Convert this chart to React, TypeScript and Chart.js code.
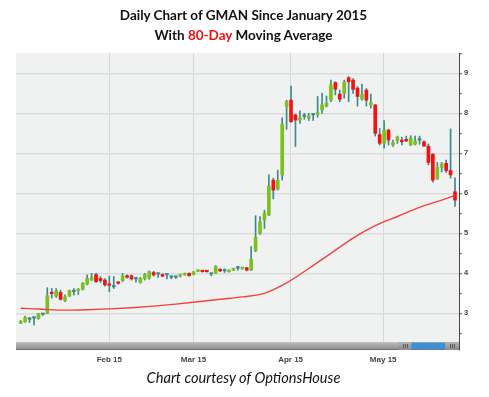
import React, { useEffect, useRef } from 'react';
import { Chart, registerables } from 'chart.js';

Chart.register(...registerables);

// Daily OHLC values (index 0 = mid-January 2015)
const opens = [
  2.75, 2.79, 2.85, 2.88, 2.87, 2.97, 3.0, 3.52, 3.43, 3.52,
  3.32, 3.43, 3.54, 3.57, 3.6, 3.73, 3.83, 3.97, 3.87, 3.83,
  3.73, 3.66, 3.77, 3.82, 3.94, 3.94, 3.86, 3.77, 3.86, 3.88,
  4.02, 3.98, 3.97, 3.96, 3.9, 3.9, 3.93, 3.96, 4.0, 3.97,
  4.05, 4.06, 4.05, 3.98, 4.0, 4.1, 4.06, 4.04, 4.08, 4.13,
  4.12, 4.14, 4.08, 4.56, 5.0, 5.33, 5.46, 6.33, 6.1, 6.46,
  8.17, 8.33, 7.96, 7.83, 7.92, 7.88, 7.96, 7.98, 8.08, 8.18,
  8.33, 8.77, 8.48, 8.5, 8.89, 8.83, 8.63, 8.36, 8.58, 8.21,
  8.21, 7.47, 7.25, 7.58, 7.21, 7.32, 7.3, 7.35, 7.21, 7.23,
  7.33, 7.29, 7.18, 6.98, 6.36, 6.65, 6.75, 6.57, 6.04,
];
const highs = [
  2.82, 2.93, 2.9, 2.9, 3.0, 2.99, 3.64, 3.62, 3.62, 3.58,
  3.46, 3.58, 3.62, 3.62, 3.77, 3.96, 4.0, 4.0, 3.92, 3.87,
  3.93, 3.92, 3.79, 4.0, 3.96, 3.96, 3.9, 3.9, 4.0, 4.06,
  4.05, 4.0, 3.99, 3.98, 3.94, 3.93, 3.98, 4.01, 4.01, 4.05,
  4.09, 4.07, 4.06, 4.0, 4.19, 4.12, 4.11, 4.09, 4.13, 4.17,
  4.15, 4.15, 4.67, 5.44, 5.42, 5.58, 6.46, 6.38, 6.58, 7.89,
  8.33, 8.68, 7.98, 8.06, 8.0, 8.0, 8.0, 8.42, 8.5, 8.43,
  8.83, 8.79, 8.58, 8.83, 8.92, 8.87, 8.67, 8.73, 8.62, 8.48,
  8.22, 7.62, 7.82, 7.6, 7.33, 7.43, 7.4, 7.43, 7.44, 7.43,
  7.43, 7.31, 7.23, 6.99, 6.77, 6.77, 6.83, 7.61, 6.39,
];
const lows = [
  2.74, 2.77, 2.77, 2.71, 2.85, 2.95, 2.99, 3.38, 3.4, 3.33,
  3.29, 3.42, 3.46, 3.47, 3.58, 3.71, 3.82, 3.77, 3.77, 3.68,
  3.54, 3.62, 3.73, 3.79, 3.88, 3.83, 3.78, 3.75, 3.83, 3.85,
  3.93, 3.9, 3.91, 3.86, 3.86, 3.87, 3.91, 3.95, 3.93, 3.96,
  4.04, 4.03, 4.03, 3.94, 3.99, 4.04, 4.02, 4.03, 4.07, 4.08,
  4.1, 4.06, 4.07, 4.54, 4.97, 5.12, 5.44, 5.86, 6.08, 6.33,
  7.6, 7.77, 7.17, 7.75, 7.85, 7.82, 7.82, 7.9, 8.0, 8.16,
  8.29, 8.46, 8.29, 8.38, 8.29, 8.5, 8.18, 8.33, 8.18, 8.13,
  7.43, 7.21, 7.13, 7.21, 7.17, 7.25, 7.21, 7.29, 7.19, 7.21,
  7.23, 7.17, 6.71, 6.28, 6.35, 6.54, 6.52, 6.38, 5.67,
];
const closes = [
  2.8, 2.9, 2.85, 2.88, 2.99, 2.97, 3.44, 3.49, 3.56, 3.35,
  3.41, 3.57, 3.54, 3.58, 3.75, 3.87, 3.9, 3.79, 3.82, 3.71,
  3.7, 3.66, 3.75, 3.93, 3.9, 3.86, 3.86, 3.87, 3.97, 4.04,
  3.96, 3.98, 3.93, 3.96, 3.9, 3.9, 3.97, 4.0, 3.94, 4.04,
  4.08, 4.04, 4.04, 3.98, 4.17, 4.06, 4.06, 4.08, 4.12, 4.13,
  4.14, 4.08, 4.35, 4.9, 5.29, 5.5, 6.18, 6.08, 6.33, 7.73,
  8.29, 7.79, 7.83, 7.89, 7.92, 7.93, 7.96, 8.02, 8.21, 8.25,
  8.71, 8.6, 8.35, 8.78, 8.79, 8.6, 8.42, 8.47, 8.33, 8.27,
  7.5, 7.25, 7.58, 7.33, 7.27, 7.4, 7.29, 7.31, 7.38, 7.31,
  7.33, 7.18, 6.77, 6.33, 6.65, 6.73, 6.57, 6.46, 5.83,
];

// 80-day moving average, read at selected candle indices
const maIndex = [0, 5, 10, 15, 20, 25, 30, 35, 40, 45, 50, 55, 60, 65, 70, 75, 80, 85, 90, 95, 98];
const maValues = [3.125, 3.1, 3.08, 3.09, 3.11, 3.14, 3.18, 3.23, 3.29, 3.35, 3.41, 3.5, 3.76, 4.12, 4.5, 4.88, 5.19, 5.42, 5.65, 5.83, 5.95];

// x-axis labels and their (fractional) candle positions
const xTickPos = [20, 39, 60.9, 81.8];
const xTickLabels = ['Feb 15', 'Mar 15', 'Apr 15', 'May 15'];

// y-axis ticks
const yTicks = [2.5, 3, 3.5, 4, 4.5, 5, 5.5, 6, 6.5, 7, 7.5, 8, 8.5, 9, 9.5];

const GREEN = '#7cc21c';
const RED = '#f21212';
const WICK = '#3f8892';

export default function App() {
  const ref = useRef<HTMLCanvasElement>(null);

  useEffect(() => {
    if (!ref.current) return;
    const idx = opens.map((_, i) => i);
    const bodyColors = idx.map((i) =>
      closes[i] > opens[i] ? GREEN : closes[i] < opens[i] ? RED : WICK
    );

    const bgPlugin = {
      id: 'plotbg',
      beforeDraw(chart: any) {
        const { ctx, chartArea: a } = chart;
        ctx.save();
        ctx.fillStyle = '#f0f1f1';
        ctx.fillRect(a.left, a.top, a.right - a.left, a.bottom - a.top);
        ctx.restore();
      },
    };

    const scrollPlugin = {
      id: 'scrollbar',
      afterDraw(chart: any) {
        const { ctx, chartArea: a } = chart;
        const top = a.bottom - 8;
        const h = 8;
        ctx.save();
        const g = ctx.createLinearGradient(0, top, 0, top + h);
        g.addColorStop(0, '#c4c4c4');
        g.addColorStop(0.35, '#a9a9a9');
        g.addColorStop(1, '#8e8e8e');
        ctx.fillStyle = g;
        ctx.fillRect(a.left, top, a.right - a.left, h);
        ctx.fillStyle = '#6f6f6f';
        ctx.fillRect(a.left, top + h - 1, a.right - a.left, 1);
        const b1 = 398, b2 = 411.5, b3 = 445, b4 = a.right - 0.5;
        const bg = ctx.createLinearGradient(0, top, 0, top + h);
        bg.addColorStop(0, '#b5b5b5');
        bg.addColorStop(1, '#8a8a8a');
        ctx.fillStyle = bg;
        ctx.fillRect(b1, top, b2 - b1, h);
        ctx.fillRect(b3, top, b4 - b3, h);
        ctx.fillStyle = '#3f8fd2';
        ctx.fillRect(b2, top + 0.5, b3 - b2, h - 1);
        ctx.fillStyle = '#5a5a5a';
        for (const c of [(b1 + b2) / 2, (b3 + b4) / 2]) {
          for (let k = -1; k <= 1; k++) ctx.fillRect(Math.round(c + k * 2), top + 2, 1, 4);
        }
        ctx.restore();
      },
    };

    const chart = new Chart(ref.current, {
      type: 'bar',
      data: {
        datasets: [
          {
            type: 'line',
            data: maIndex.map((x, i) => ({ x, y: maValues[i] })),
            borderColor: '#f0423e',
            borderWidth: 1.4,
            pointRadius: 0,
            cubicInterpolationMode: 'monotone',
            order: 0,
          } as any,
          {
            type: 'bar',
            data: idx.map((i) => ({ x: i, y: [opens[i], closes[i]] })),
            backgroundColor: bodyColors,
            borderWidth: 0,
            barThickness: 3,
            minBarLength: 1.5,
            grouped: false,
            order: 1,
          } as any,
          {
            type: 'bar',
            data: idx.map((i) => ({ x: i, y: [lows[i], highs[i]] })),
            backgroundColor: WICK,
            borderWidth: 0,
            barThickness: 1,
            grouped: false,
            order: 2,
          } as any,
        ],
      },
      options: {
        responsive: false,
        animation: false,
        layout: { padding: { left: 16, top: 53, right: 0, bottom: 0 } },
        plugins: { legend: { display: false }, tooltip: { enabled: false }, title: { display: false } },
        scales: {
          x: {
            type: 'linear',
            offset: false,
            min: -1.06,
            max: 98.9,
            afterFit: (s: any) => { s.height = 47; },
            afterBuildTicks: (s: any) => { s.ticks = xTickPos.map((v) => ({ value: v })); },
            grid: { color: '#d6d8d8', lineWidth: 1, drawTicks: false, offset: false },
            border: { display: false },
            ticks: {
              autoSkip: false,
              maxRotation: 0,
              padding: 5,
              color: '#444',
              font: { family: 'Liberation Sans', size: 8, weight: 'bold' },
              callback: (v: any) => {
                const k = xTickPos.indexOf(Number(v));
                return k >= 0 ? xTickLabels[k] : '';
              },
            },
          },
          y: {
            type: 'linear',
            position: 'right',
            min: 2.0825,
            max: 9.508,
            afterFit: (s: any) => { s.width = 30; },
            afterBuildTicks: (s: any) => { s.ticks = yTicks.map((v) => ({ value: v })); },
            grid: {
              color: (c: any) => (c.tick && Number.isInteger(c.tick.value) ? '#dadcdc' : 'rgba(0,0,0,0)'),
              lineWidth: 1.5,
              tickColor: '#555',
              tickLength: 3,
              tickWidth: 1,
            },
            border: { display: true, color: '#444', width: 1 },
            ticks: {
              padding: 2,
              color: '#444',
              font: { family: 'Liberation Sans', size: 7.5, weight: 'bold' },
              callback: (v: any) => (Number.isInteger(Number(v)) ? String(v) : ''),
            },
          },
        },
      } as any,
      plugins: [bgPlugin, scrollPlugin],
    });
    return () => chart.destroy();
  }, []);

  const titleStyle: React.CSSProperties = {
    position: 'absolute',
    left: 0,
    width: 487,
    textAlign: 'center',
    whiteSpace: 'nowrap',
    fontFamily: 'Lato',
    fontWeight: 'bold',
    fontSize: 13.5,
    lineHeight: 'normal',
    color: '#111',
  };

  return (
    <div style={{ position: 'fixed', left: 0, top: 0, width: 489, height: 397, background: '#fff', overflow: 'hidden' }}>
      <canvas ref={ref} width={489} height={397} style={{ position: 'absolute', left: 0, top: 0, width: 489, height: 397 }} />
      <div style={{ ...titleStyle, top: 7.4 }}>Daily Chart of GMAN Since January 2015</div>
      <div style={{ ...titleStyle, top: 26.7 }}>
        With <span style={{ color: '#f01010' }}>80-Day</span> Moving Average
      </div>
      <div style={{ ...titleStyle, top: 368.9, fontWeight: 'normal', fontStyle: 'italic', fontSize: 14.6 }}>
        Chart courtesy of OptionsHouse
      </div>
    </div>
  );
}
